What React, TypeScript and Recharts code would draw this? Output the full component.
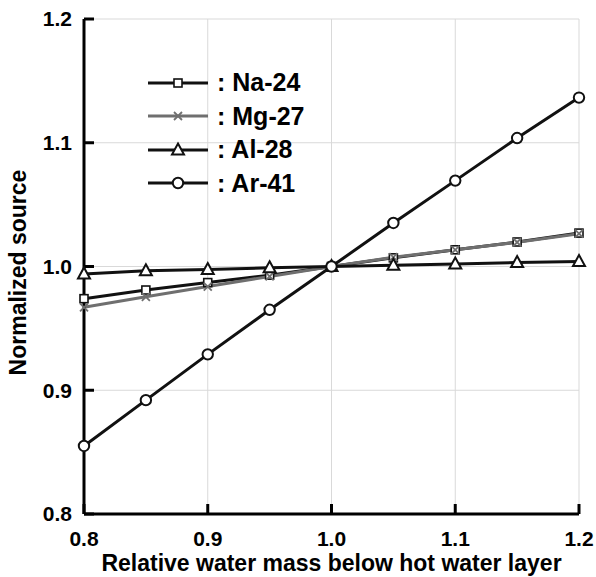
import React from 'react';
import {
  CartesianGrid,
  Line,
  LineChart,
  XAxis,
  YAxis
} from 'recharts';

// relative water mass (x) and normalized source per nuclide
const massRatio = [0.8, 0.85, 0.9, 0.95, 1.0, 1.05, 1.1, 1.15, 1.2];
const na24 = [0.974, 0.981, 0.987, 0.993, 1.0, 1.007, 1.0135, 1.0198, 1.027];
const mg27 = [0.967, 0.9755, 0.9838, 0.992, 1.0, 1.0075, 1.0135, 1.0196, 1.0265];
const al28 = [0.994, 0.9965, 0.9975, 0.999, 1.0, 1.001, 1.002, 1.0032, 1.004];
const ar41 = [0.855, 0.892, 0.929, 0.965, 1.0, 1.0352, 1.0694, 1.1038, 1.1365];

const xTicks = [0.8, 0.9, 1.0, 1.1, 1.2];
const yTicks = [0.8, 0.9, 1.0, 1.1, 1.2];

const data = massRatio.map((x, i) => ({
  x,
  na: na24[i],
  mg: mg27[i],
  al: al28[i],
  ar: ar41[i]
}));

const BLACK = '#111111';
const GRAY = '#6f6f6f';
const FONT = '"Liberation Sans", Arial, sans-serif';

type Shape = 'square' | 'cross' | 'triangle' | 'circle';

const Marker = ({ shape, cx, cy, color }: { shape: Shape; cx: number; cy: number; color: string }) => {
  if (shape === 'square') {
    return <rect x={cx - 4} y={cy - 4} width={8} height={8} fill="#fff" stroke={color} strokeWidth={1.6} />;
  }
  if (shape === 'cross') {
    return (
      <path
        d={`M${cx - 4},${cy - 4}L${cx + 4},${cy + 4}M${cx - 4},${cy + 4}L${cx + 4},${cy - 4}`}
        stroke={color}
        strokeWidth={1.8}
        fill="none"
      />
    );
  }
  if (shape === 'triangle') {
    return (
      <path
        d={`M${cx},${cy - 6.5}L${cx + 6},${cy + 4.5}L${cx - 6},${cy + 4.5}Z`}
        fill="#fff"
        stroke={color}
        strokeWidth={2}
      />
    );
  }
  return <circle cx={cx} cy={cy} r={5.2} fill="#fff" stroke={color} strokeWidth={2} />;
};

const series = [
  { key: 'na', name: 'Na-24', color: BLACK, shape: 'square' as Shape },
  { key: 'mg', name: 'Mg-27', color: GRAY, shape: 'cross' as Shape },
  { key: 'al', name: 'Al-28', color: BLACK, shape: 'triangle' as Shape },
  { key: 'ar', name: 'Ar-41', color: BLACK, shape: 'circle' as Shape }
];

const tickStyle = { fill: '#000', fontSize: 21, fontWeight: 700, fontFamily: FONT };

export default function App() {
  return (
    <div style={{ position: 'absolute', left: 0, top: 0, width: 596, height: 577, background: '#fff' }}>
      <LineChart width={596} height={577} data={data} margin={{ top: 19, right: 17, left: 0, bottom: 0 }}>
        <CartesianGrid stroke="#d9d9d9" strokeWidth={1} />
        <XAxis
          dataKey="x"
          type="number"
          domain={[0.8, 1.2]}
          ticks={xTicks}
          tickFormatter={(v) => Number(v).toFixed(1)}
          height={63}
          axisLine={{ stroke: '#000', strokeWidth: 3 }}
          tickLine={{ stroke: '#000', strokeWidth: 3 }}
          tickSize={-10}
          tickMargin={27}
          tick={tickStyle}
          label={{
            value: 'Relative water mass below hot water layer',
            position: 'insideBottom',
            offset: 6,
            style: { fill: '#000', fontSize: 23, fontWeight: 700, fontFamily: FONT }
          }}
        />
        <YAxis
          type="number"
          domain={[0.8, 1.2]}
          ticks={yTicks}
          tickFormatter={(v) => Number(v).toFixed(1)}
          width={84}
          axisLine={{ stroke: '#000', strokeWidth: 3 }}
          tickLine={{ stroke: '#000', strokeWidth: 3 }}
          tickSize={-10}
          tickMargin={22}
          tick={tickStyle}
          label={{
            value: 'Normalized source',
            angle: -90,
            position: 'center',
            dx: -24,
            dy: 6,
            style: { fill: '#000', fontSize: 23, fontWeight: 700, fontFamily: FONT, textAnchor: 'middle' }
          }}
        />
        {/* frame: top and right edges */}
        <XAxis xAxisId="top" orientation="top" type="number" domain={[0.8, 1.2]} height={0} tick={false} tickLine={false} axisLine={{ stroke: '#000', strokeWidth: 3 }} />
        <YAxis yAxisId="right" orientation="right" type="number" domain={[0.8, 1.2]} width={0} tick={false} tickLine={false} axisLine={{ stroke: '#000', strokeWidth: 3 }} />
        {series.map((s) => (
          <Line
            key={s.key}
            dataKey={s.key}
            name={s.name}
            type="linear"
            stroke={s.color}
            strokeWidth={3}
            isAnimationActive={false}
            dot={(p: any) => <Marker key={`${s.key}-${p.index}`} shape={s.shape} cx={p.cx} cy={p.cy} color={s.color} />}
            activeDot={false}
          />
        ))}
      </LineChart>
      <div style={{ position: 'absolute', left: 148, top: 66, fontFamily: FONT, fontWeight: 700, fontSize: 25, color: '#000' }}>
        {series.map((s) => (
          <div key={s.key} style={{ display: 'flex', alignItems: 'center', height: 33.5 }}>
            <svg width={60} height={20} style={{ overflow: 'visible' }}>
              <line x1={0} y1={10} x2={60} y2={10} stroke={s.color} strokeWidth={3} />
              <Marker shape={s.shape} cx={30} cy={10} color={s.color} />
            </svg>
            <span style={{ marginLeft: 9, whiteSpace: 'pre' }}>: {s.name}</span>
          </div>
        ))}
      </div>
    </div>
  );
}
